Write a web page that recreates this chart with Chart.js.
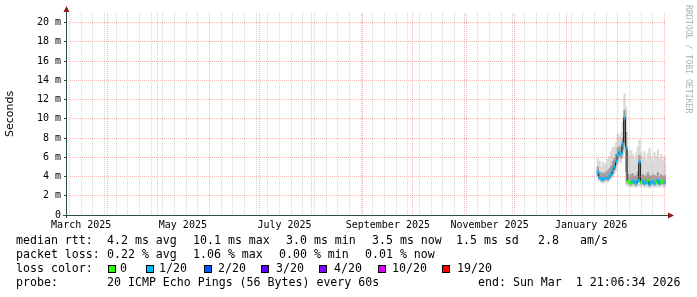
<!DOCTYPE html>
<html>
<head>
<meta charset="utf-8">
<title>SmokePing</title>
<script src="https://cdn.jsdelivr.net/npm/chart.js@4.4.1/dist/chart.umd.min.js"></script>
<style>
  body { margin: 0; background: #fff; }
  #wrap { width: 697px; height: 297px; }
</style>
</head>
<body>
<div id="wrap"><canvas id="smoke" width="697" height="297"></canvas></div>
<script>
// days relative to Sun Mar 1 2026 00:00
const days = [-40, -39, -38, -37, -36, -35, -34, -33, -32, -31, -30, -29, -28, -27, -26, -25, -24, -23, -22, -21,
  -20, -19, -18, -17, -16, -15, -14, -13, -12, -11, -10, -9, -8, -7, -6, -5, -4, -3, -2, -1, 0, 1];

// median rtt (ms)
const median = [4.4, 3.9, 3.8, 3.7, 3.8, 3.9, 3.8, 4.0, 4.2, 4.6, 5.0, 5.6, 6.2, 6.5, 6.4, 7.4, 10.1, 7.0, 3.5, 3.4,
  3.3, 3.5, 3.4, 3.3, 3.6, 5.5, 3.4, 3.5, 3.3, 3.4, 3.6, 3.2, 3.4, 3.5, 3.3, 3.4, 3.6, 3.3, 3.5, 3.4, 3.4, 3.5];

// lost pings out of 20
const lost = [1, 1, 1, 1, 1, 1, 1, 1, 1, 1, 1, 1, 1, 1, 1, 1, 1, 1, 0, 0,
  0, 1, 1, 1, 1, 1, 0, 1, 1, 1, 0, 1, 1, 1, 1, 0, 1, 1, 0, 0, 1, 1];

// smoke: outer band (min..max), inner band (lower..upper), ms
const smokeMax = [5.9, 5.6, 5.0, 5.5, 5.2, 5.4, 5.8, 6.1, 6.6, 7.1, 7.0, 7.6, 8.4, 8.2, 8.6, 9.6, 12.6, 11.2, 6.6, 6.1,
  6.7, 6.3, 5.8, 6.4, 7.1, 7.8, 6.5, 6.0, 6.6, 5.8, 6.4, 6.9, 6.1, 5.6, 6.5, 6.0, 6.8, 5.9, 6.3, 5.6, 6.1, 5.4];
const smokeUpper = [5.0, 4.5, 4.3, 4.4, 4.3, 4.5, 4.6, 4.8, 5.1, 5.6, 5.9, 6.3, 7.0, 7.1, 7.0, 8.0, 10.9, 8.6, 4.3, 4.0,
  4.2, 4.3, 4.0, 4.1, 4.5, 6.2, 4.1, 4.2, 4.1, 4.0, 4.4, 4.1, 4.0, 4.2, 4.1, 4.0, 4.4, 4.0, 4.2, 4.0, 4.1, 4.1];
const smokeLower = [4.1, 3.7, 3.6, 3.5, 3.6, 3.7, 3.6, 3.8, 4.0, 4.3, 4.7, 5.2, 5.8, 6.1, 5.9, 6.8, 7.6, 4.5, 3.3, 3.2,
  3.1, 3.3, 3.2, 3.1, 3.4, 3.5, 3.2, 3.3, 3.1, 3.2, 3.4, 3.0, 3.2, 3.3, 3.1, 3.2, 3.4, 3.1, 3.3, 3.2, 3.2, 3.3];
const smokeMin = [3.9, 3.5, 3.4, 3.3, 3.4, 3.5, 3.4, 3.6, 3.8, 4.0, 4.3, 4.6, 5.3, 5.5, 5.4, 6.0, 6.5, 3.2, 3.0, 2.9,
  2.9, 3.0, 2.9, 2.9, 3.0, 3.0, 2.9, 3.0, 2.9, 2.9, 3.0, 2.8, 2.9, 3.0, 2.9, 2.9, 3.0, 2.9, 3.0, 2.9, 2.9, 3.0];

// loss colours
const lossSteps = [0, 1, 2, 3, 4, 10, 19];
const lossLabels = ['0', '1/20', '2/20', '3/20', '4/20', '10/20', '19/20'];
const lossColors = ['#26ff00', '#00b8ff', '#0059ff', '#5e00ff', '#7e00ff', '#dd00ff', '#ff0000'];

// axis labels
const monthStartDays = [-334, -304, -273, -243, -212, -181, -151, -120, -90, -59, -28, 0];
const monthLabelDays = [-350, -289, -228, -166, -105, -44];
const monthLabels = ['March 2025', 'May 2025', 'July 2025', 'September 2025', 'November 2025', 'January 2026'];
const yLabelValues = [0, 2, 4, 6, 8, 10, 12, 14, 16, 18, 20];
const yLabels = ['0', '2 m', '4 m', '6 m', '8 m', '10 m', '12 m', '14 m', '16 m', '18 m', '20 m'];

// legend texts
const rttStats = ['4.2 ms avg', '10.1 ms max', '3.0 ms min', '3.5 ms now', '1.5 ms sd', '2.8', 'am/s'];
const lossStats = ['0.22 % avg', '1.06 % max', '0.00 % min', '0.01 % now'];
const probeText = '20 ICMP Echo Pings (56 Bytes) every 60s';
const endText = 'end: Sun Mar  1 21:06:34 2026';

// weekly minor grid
const weekDays = [];
for (let d = -357; d <= 0; d += 7) weekDays.push(d);
const xTicks = Array.from(new Set([...weekDays, ...monthStartDays, ...monthLabelDays])).sort((a, b) => a - b);
const yTicks = [];
for (let v = 0; v <= 20; v++) yTicks.push(v);

function lossColor(n) {
    let c = lossColors[0];
    lossSteps.forEach((s, i) => { if (n >= s) c = lossColors[i]; });
    return c;
}

const MINOR = 'rgba(180,180,180,0.6)';
const MAJOR = 'rgba(235,120,120,0.55)';
const axisFont = { family: 'DejaVu Sans Mono', size: 10 };

// axes, arrows, legend, watermark
const decor = {
    id: 'decor',
    afterDraw(chart) {
        const ctx = chart.ctx;
        const a = chart.chartArea;
        ctx.save();
        ctx.strokeStyle = '#2c4d43';
        ctx.lineWidth = 1;
        ctx.beginPath();
        ctx.moveTo(a.left + 0.5, a.bottom + 3);
        ctx.lineTo(a.left + 0.5, a.top - 3);
        ctx.moveTo(a.left - 3, a.bottom + 0.5);
        ctx.lineTo(a.right + 3, a.bottom + 0.5);
        ctx.stroke();

        ctx.fillStyle = '#8b1a1a';
        ctx.beginPath();
        ctx.moveTo(a.left + 0.5, a.top - 7);
        ctx.lineTo(a.left - 2.5, a.top - 1);
        ctx.lineTo(a.left + 3.5, a.top - 1);
        ctx.fill();
        ctx.beginPath();
        ctx.moveTo(a.right + 8, a.bottom + 0.5);
        ctx.lineTo(a.right + 2, a.bottom - 2.5);
        ctx.lineTo(a.right + 2, a.bottom + 3.5);
        ctx.fill();

        // legend
        ctx.fillStyle = '#000';
        ctx.font = '11.6px "DejaVu Sans Mono"';
        ctx.textBaseline = 'middle';
        ctx.textAlign = 'left';
        const rows = [241, 255, 269, 283];
        ctx.fillText('median rtt:', 16, rows[0]);
        [107, 193, 286, 372, 456, 538, 580].forEach((x, i) => ctx.fillText(rttStats[i], x, rows[0]));
        ctx.fillText('packet loss:', 16, rows[1]);
        [107, 193, 279, 365].forEach((x, i) => ctx.fillText(lossStats[i], x, rows[1]));
        ctx.fillText('loss color:', 16, rows[2]);
        const boxX = [108, 146, 204, 261, 319, 378, 442];
        const textX = [120, 159, 218, 276, 334, 392, 457];
        boxX.forEach((x, i) => {
            ctx.fillStyle = lossColors[i];
            ctx.fillRect(x, rows[2] - 4, 8, 8);
            ctx.strokeStyle = '#000';
            ctx.strokeRect(x + 0.5, rows[2] - 3.5, 7, 7);
            ctx.fillStyle = '#000';
            ctx.fillText(lossLabels[i], textX[i], rows[2]);
        });
        ctx.fillText('probe:', 16, rows[3]);
        ctx.fillText(probeText, 107, rows[3]);
        ctx.fillText(endText, 478, rows[3]);

        // watermark
        ctx.fillStyle = '#b0b0b0';
        ctx.font = '8.2px "DejaVu Sans Mono"';
        ctx.translate(688, 5);
        ctx.rotate(Math.PI / 2);
        ctx.fillText('RRDTOOL / TOBI OETIKER', 0, 0);
        ctx.restore();
    }
};

const pts = (lo, hi) => days.map((d, i) => ({ x: d, y: [lo[i], hi[i]] }));

new Chart(document.getElementById('smoke'), {
    type: 'bar',
    data: {
        datasets: [
            {
                label: 'median',
                data: days.map((d, i) => ({ x: d, y: [median[i] - 0.12, median[i] + 0.12] })),
                backgroundColor: lost.map(lossColor),
                order: 0
            },
            {
                type: 'line',
                label: 'median step',
                data: days.map((d, i) => ({ x: d, y: median[i] })),
                stepped: 'middle',
                borderColor: '#111',
                borderWidth: 1,
                pointRadius: 0,
                order: 1
            },
            {
                label: 'smoke inner',
                data: pts(smokeLower, smokeUpper),
                backgroundColor: '#a0a0a0',
                order: 2
            },
            {
                label: 'smoke outer',
                data: pts(smokeMin, smokeMax),
                backgroundColor: '#dadada',
                order: 3
            }
        ]
    },
    options: {
        responsive: false,
        animation: false,
        events: [],
        layout: { padding: { top: 13, right: 31, left: 0, bottom: 0 } },
        datasets: {
            bar: { barPercentage: 1, categoryPercentage: 1, grouped: false, borderWidth: 0 }
        },
        scales: {
            x: {
                type: 'linear',
                min: -359.12,
                max: 0.88,
                offset: false,
                afterBuildTicks: s => { s.ticks = xTicks.map(v => ({ value: v })); },
                afterFit: s => { s.height = 82; },
                grid: {
                    offset: false,
                    z: 1,
                    drawTicks: false,
                    color: c => monthStartDays.includes(c.tick.value) ? MAJOR
                        : (weekDays.includes(c.tick.value) ? MINOR : 'rgba(0,0,0,0)')
                },
                border: { display: false, dash: [1, 1] },
                ticks: {
                    autoSkip: false,
                    maxRotation: 0,
                    padding: 4,
                    color: '#000',
                    font: axisFont,
                    callback: v => {
                        const i = monthLabelDays.indexOf(v);
                        return i >= 0 ? monthLabels[i] : '';
                    }
                }
            },
            y: {
                type: 'linear',
                min: 0,
                max: 21,
                afterBuildTicks: s => { s.ticks = yTicks.map(v => ({ value: v })); },
                afterFit: s => { s.width = 66; },
                grid: {
                    z: 1,
                    drawTicks: true,
                    tickLength: 2,
                    tickColor: '#2c4d43',
                    color: c => c.tick.value === 0 ? 'rgba(0,0,0,0)' : (c.tick.value % 2 === 0 ? MAJOR : MINOR)
                },
                border: { display: false, dash: [1, 1] },
                ticks: {
                    padding: 3,
                    color: '#000',
                    font: axisFont,
                    callback: v => {
                        const i = yLabelValues.indexOf(v);
                        return i >= 0 ? yLabels[i] : '';
                    }
                },
                title: {
                    display: true,
                    text: 'Seconds',
                    color: '#000',
                    font: { family: 'DejaVu Sans', size: 11 },
                    padding: { top: 4, bottom: 0 }
                }
            }
        },
        plugins: {
            legend: { display: false },
            tooltip: { enabled: false }
        }
    },
    plugins: [decor]
});
</script>
</body>
</html>
